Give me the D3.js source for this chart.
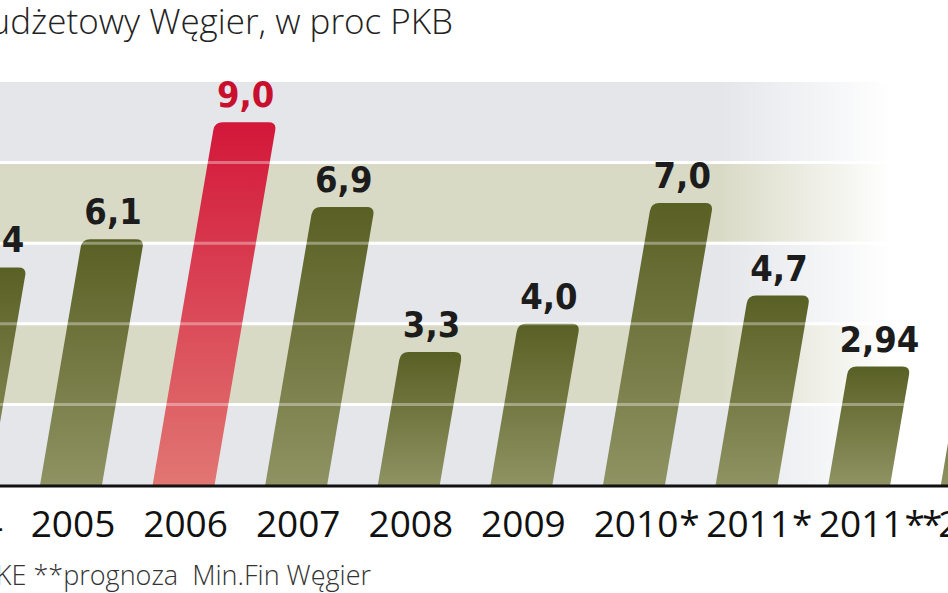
<!DOCTYPE html>
<html><head><meta charset="utf-8">
<script src="https://cdn.jsdelivr.net/npm/d3@7"></script>
<style>html,body{margin:0;padding:0;background:#fff;overflow:hidden}svg{display:block}</style>
</head><body>
<script>
const categories = ["2004","2005","2006","2007","2008","2009","2010*","2011*","2011**","2012**"];
const values = [5.4, 6.1, 9.0, 6.9, 3.3, 4.0, 7.0, 4.7, 2.94, 2.5];
const valueLabels = ["5,4","6,1","9,0","6,9","3,3","4,0","7,0","4,7","2,94","2,5"];
const highlight = ["2006"];
const gridValues = [2, 4, 6, 8];
const titleText = "Deficyt budżetowy Węgier, w proc PKB";
const noteText = "*prognoza KE **prognoza  Min.Fin Węgier";

const W = 948, H = 593;
const svg = d3.select("body").append("svg").attr("width", W).attr("height", H);
const defs = svg.append("defs");

const step = 112.6;
const x = d3.scaleBand().domain(categories)
  .range([-97.9, -97.9 + step * categories.length])
  .paddingInner(0.45).paddingOuter(0.225);
const y = d3.scaleLinear().domain([0, 10]).range([485, 82]);
const slant = 0.171;

const bgG = defs.append("linearGradient").attr("id","fade").attr("gradientUnits","userSpaceOnUse")
  .attr("x1",0).attr("x2",W).attr("y1",0).attr("y2",0);
bgG.append("stop").attr("offset",0).attr("stop-color","#fff").attr("stop-opacity",0);
bgG.append("stop").attr("offset",0.76).attr("stop-color","#fff").attr("stop-opacity",0);
bgG.append("stop").attr("offset",0.94).attr("stop-color","#fff").attr("stop-opacity",1);

const olive = defs.append("linearGradient").attr("id","olive").attr("x1",0).attr("x2",0).attr("y1",0).attr("y2",1);
olive.append("stop").attr("offset",0).attr("stop-color","#596024");
olive.append("stop").attr("offset",1).attr("stop-color","#8f9262");
const red = defs.append("linearGradient").attr("id","red").attr("x1",0).attr("x2",0).attr("y1",0).attr("y2",1);
red.append("stop").attr("offset",0).attr("stop-color","#d3173a");
red.append("stop").attr("offset",1).attr("stop-color","#e17672");

const bandEdges = [0, ...gridValues, 10];
const bands = d3.pairs(bandEdges);
svg.append("g").selectAll("rect").data(bands).join("rect")
  .attr("x", 0).attr("width", W)
  .attr("y", d => y(d[1])).attr("height", d => y(d[0]) - y(d[1]))
  .attr("fill", (d, i) => i % 2 === 0 ? "#e4e6ea" : "#d9dac6");
svg.append("rect").attr("x",0).attr("y",y(10)).attr("width",W).attr("height",y(0)-y(10)).attr("fill","url(#fade)");

svg.append("g").selectAll("line").data(gridValues).join("line")
  .attr("x1",0).attr("x2",W).attr("y1",d=>y(d)).attr("y2",d=>y(d))
  .attr("stroke","#fff").attr("stroke-width",3);

function barPath(d, i) {
  const x0 = x(categories[i]), w = x.bandwidth();
  const yb = y(0), yt = y(d);
  const h = yb - yt, off = slant * h, r = 8;
  const len = Math.hypot(off, h);
  const ux = -off / len, uy = h / len;
  const TL = [x0 + off, yt], TR = [x0 + w + off, yt];
  return `M${x0},${yb} L${TL[0] + ux * r},${TL[1] + uy * r} Q${TL[0]},${TL[1]} ${TL[0] + r},${TL[1]}` +
    ` L${TR[0] - r},${TR[1]} Q${TR[0]},${TR[1]} ${TR[0] + ux * r},${TR[1] + uy * r} L${x0 + w},${yb} Z`;
}

svg.append("g").selectAll("path").data(values).join("path")
  .attr("d", barPath)
  .attr("fill", (d, i) => highlight.includes(categories[i]) ? "url(#red)" : "url(#olive)");

svg.append("g").selectAll("line").data(gridValues).join("line")
  .attr("x1",0).attr("x2",W).attr("y1",d=>y(d)).attr("y2",d=>y(d))
  .attr("stroke","#fff").attr("stroke-opacity",0.35).attr("stroke-width",3);

svg.append("g").selectAll("text").data(values).join("text")
  .attr("x", (d, i) => x(categories[i]) + slant * (y(0) - y(d)) + x.bandwidth() / 2)
  .attr("y", d => y(d) - 15)
  .attr("text-anchor", "middle")
  .attr("font-family", "'DejaVu Sans Condensed', 'DejaVu Sans', sans-serif")
  .attr("font-stretch", "condensed")
  .attr("font-weight", "bold")
  .attr("font-size", 36)
  .attr("fill", (d, i) => highlight.includes(categories[i]) ? "#c8102e" : "#1c1c1c")
  .text((d, i) => valueLabels[i]);

svg.append("line").attr("x1",0).attr("x2",W).attr("y1",y(0)+1).attr("y2",y(0)+1)
  .attr("stroke","#111").attr("stroke-width",3);

const xl = svg.append("g").attr("font-family","'Open Sans', sans-serif").attr("font-size",37).attr("fill","#111");
let prevRight = -Infinity;
categories.forEach(c => {
  const year = c.replace(/\*/g, "");
  const stars = c.slice(year.length);
  const t = xl.append("text").attr("y", 537).text(year);
  const yw = t.node().getComputedTextLength();
  const left = Math.max(x(c) + x.bandwidth() / 2 + 2 - yw / 2, prevRight + 5);
  t.attr("x", left);
  prevRight = left + yw;
  if (stars) {
    const s = xl.append("text").attr("x", prevRight + 1).attr("y", 537)
      .attr("letter-spacing", -3).text(stars);
    prevRight += 1 + s.node().getComputedTextLength() - 3 * stars.length;
  }
});

svg.append("text").attr("x",453).attr("y",34).attr("text-anchor","end")
  .attr("font-family","'Open Sans', sans-serif").attr("font-weight",300).attr("font-size",35)
  .attr("fill","#222").text(titleText);

svg.append("text").attr("x",371).attr("y",585).attr("text-anchor","end")
  .style("white-space","pre")
  .attr("font-family","'Open Sans', sans-serif").attr("font-weight",300).attr("font-size",27)
  .attr("fill","#333").text(noteText);
</script>
</body></html>
